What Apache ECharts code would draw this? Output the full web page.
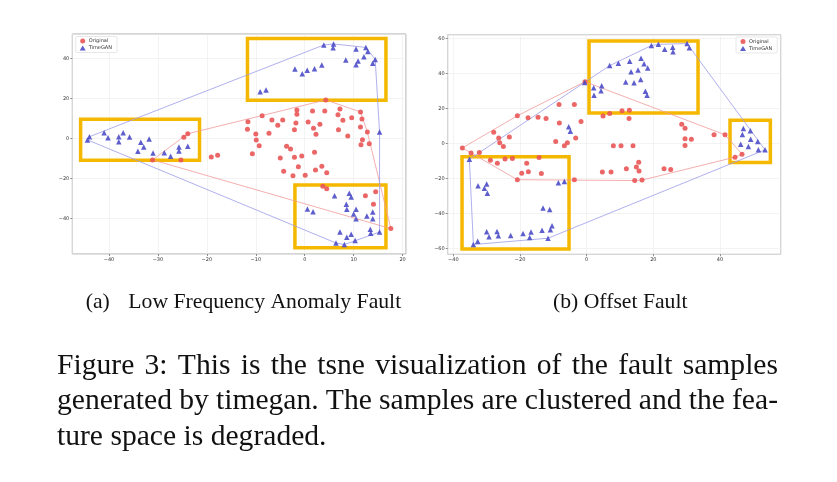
<!DOCTYPE html>
<html>
<head>
<meta charset="utf-8">
<script src="https://cdn.jsdelivr.net/npm/echarts@6/dist/echarts.min.js"></script>
<style>
html, body { margin: 0; padding: 0; background: #fff; }
#main { width: 837px; height: 482px; }
</style>
</head>
<body>
<div id="main"></div>
<script>
// (a) Low Frequency Anomaly Fault - t-SNE points
const lowOriginal = [
  [-31.1, -10.8], [-25.3, -10.8], [-24.7, 0.5], [-23.9, 2.3], [-19.1, -9.3], [-17.8, -8.5],
  [4.3, 19.2], [-1.6, 14.2], [1.6, 13.7], [4.1, 13.7], [7.2, 14.7], [6.8, 11.8], [11.4, 13.2],
  [-1.6, 12], [-8.7, 11.3], [-11.6, 8.3], [-6.7, 9.2], [-4.5, 9.2], [-5.5, 6.5], [-1.8, 7.7],
  [0.7, 8.2], [3.1, 7], [7.8, 9], [9.6, 10.3], [11.7, 9.7], [11.4, 5.7], [-11.7, 4.5], [-7.3, 2.5],
  [-10, 2.2], [-2.1, 4.3], [1.8, 5], [2.3, 2], [6.9, 4.3], [8.8, 1.2], [12.8, 3.2], [-9.9, -0.8],
  [-9.3, -3.7], [11.8, -0.7], [11.5, -3.2], [13.2, -2.7], [-3.7, -4], [-2.9, -5.3], [-10.7, -7.7],
  [-0.6, -8.8], [-2.1, -9.5], [2, -7], [-5, -9.8], [-1.3, -14.2], [-4.3, -16.5], [-2.4, -18.8],
  [0.1, -18.5], [2.2, -15.8], [3.5, -14], [4.5, -17.2], [4.5, -25.3], [3.7, -24], [12.4, -28.7],
  [14.5, -26.7], [14.05, -33], [17.6, -45.2]
];
const lowTimeGAN = [
  [-44, 0.8], [-44.4, -0.8], [-41, 2.8], [-40.2, 0.3], [-38, 0.8], [-38, -1.7], [-37.1, 2.8],
  [-35.8, 0.7], [-33.5, -2], [-32.9, -4.3], [-31.8, -0.3], [-34.1, -6.5], [-31, -7.3], [-28.7, -7.2],
  [-27.4, -9], [-25.7, -4.3], [-25.7, -6.3], [-23.9, -4],
  [3.9, 46.7], [5.9, 47.2], [5.8, 45.3], [12.5, 45.5], [12.9, 43.5], [10.5, 44.7], [14.4, 39.5],
  [12.1, 40.8], [8.4, 39.2], [10.9, 38.7], [10.5, 36.8], [13.9, 37.5], [-2, 34.7], [-0.5, 32.3],
  [0.5, 34], [2, 34.8], [3.5, 36.7], [-9.1, 23.3], [-7.9, 24.2], [15.3, 3.2],
  [6.1, -28.7], [9.1, -27.5], [9.5, -29.4], [8.5, -33], [8.6, -35.5], [10.5, -35.5], [10, -37.9],
  [10.5, -40.3], [12.7, -38.9], [13.9, -36.9], [13.9, -40.3], [0.55, -35.4], [1.7, -36.7],
  [7.2, -46.9], [9.5, -48], [8.6, -49.5], [10.3, -51.2], [6.4, -52.4], [8.1, -53.2], [13.4, -45.5],
  [13.5, -47.5], [15.3, -46.9]
];
// (b) Offset Fault - t-SNE points
const offOriginal = [
  [-37.3, -2.5], [-34.7, -5.4], [-32.2, -5.2], [-27.9, 6.5], [-26.4, 3.1], [-26.1, 0.4], [-25, -1.7],
  [-23.2, 3.8], [-20.8, 15.9], [-17.6, 14.7], [-14.6, 15.1], [-12.2, 14.4], [-8.3, 22.4], [-3.7, 22.4],
  [-8.2, 11.7], [-1.7, 12.6], [-9.3, 1.1], [-6.7, -1.3], [-5.8, 0.4], [-3.3, 3.1], [-0.5, 35.4],
  [-28.9, -9.6], [-26.8, -11.3], [-24.5, -8.8], [-22.3, -8.6], [-18, -11.3], [-19.5, -17], [-17.5, -16.1],
  [-14.3, -8], [-13.6, -17.2], [-20.8, -20.7], [-3.7, -20.7], [4.9, 15.7], [6.9, 17.2], [10.6, 18.8],
  [12.8, 19.1], [12.7, 14.4], [28.5, 11.1], [29.5, 8.8], [29.5, 2.7], [31.4, 2.5], [29.5, -1.1],
  [38.2, 5], [41.5, 5], [8, -1.3], [10.3, -1.3], [13.9, -1.3], [15.6, -10.7], [14.9, -13.4],
  [15.7, -15.7], [11.9, -14.5], [4.7, -16.3], [7.3, -16.3], [14.4, -21.2], [16.6, -20.9], [23.2, -14.5],
  [25.2, -14.9], [44.5, -7.8], [46.6, -6.1]
];
const offTimeGAN = [
  [-35.2, -9], [-32.6, -24.1], [-30.7, -25.6], [-30, -23.2], [-29.8, -28.5], [-34, -57.8], [-32.7, -55.9],
  [-30, -50.5], [-29.3, -53.4], [-26.9, -50.3], [-26.5, -52.8], [-22.8, -52.6], [-19.1, -51.5],
  [-16.7, -50.7], [-17.1, -53.8], [-13.4, -49.6], [-10.9, -49.4], [-10.4, -47.1], [-11.6, -54.2],
  [-13.1, -36.9], [-11.1, -37.7], [-8.5, -22.4], [-6.7, -21.8], [-5.4, 9.6], [-4.9, 7.1], [-0.6, 35],
  [2.1, 32], [2.2, 27.6], [4.3, 30.2], [4.5, 33.1], [6.9, 44.6], [9.5, 45.9], [12.9, 47.1], [16.3, 48.8],
  [17.2, 45.7], [18.3, 43.3], [13.3, 41.1], [15.4, 42.1], [11.7, 35.2], [14.2, 34.8], [16.2, 36.7],
  [17.6, 29.9], [18.1, 27.6], [19.4, 56.1], [21.5, 56.8], [23.4, 54], [25.8, 55.1], [25.9, 52.6],
  [30.1, 57.2], [30.8, 54.9], [47, 8.6], [49.1, 7.3], [46.7, 5.2], [49.2, 2.5], [46.2, -0.4],
  [48.5, -1.7], [51.3, 1.1], [51.5, -3.6], [53.5, -3.6]
];
// highlighted regions [x1, y1, x2, y2]
const lowBoxes = [[-45.8, 9.5, -21.5, -11], [-11.7, 50, 16.6, 19], [-2.0, -23.4, 16.6, -54.8]];
const offBoxes = [[0.7, 58.7, 33.4, 17.5], [43.0, 13.3, 55.1, -10.8], [-37.4, -7.6, -5.3, -60.4]];
const seriesNames = ['Original', 'TimeGAN'];
const subCaptions = ['(a)', 'Low Frequency Anomaly Fault', '(b) Offset Fault'];
const captionLines = [
  'Figure 3: This is the tsne visualization of the fault samples',
  'generated by timegan. The samples are clustered and the fea-',
  'ture space is degraded.'
];

const RED = '#e95757';
const BLUE = '#4c4cc8';

// convex hull (monotone chain), closed
function hull(pts) {
  const p = pts.slice().sort((a, b) => a[0] - b[0] || a[1] - b[1]);
  const cross = (o, a, b) => (a[0] - o[0]) * (b[1] - o[1]) - (a[1] - o[1]) * (b[0] - o[0]);
  const lower = [], upper = [];
  for (const q of p) {
    while (lower.length >= 2 && cross(lower[lower.length - 2], lower[lower.length - 1], q) <= 0) lower.pop();
    lower.push(q);
  }
  for (let i = p.length - 1; i >= 0; i--) {
    const q = p[i];
    while (upper.length >= 2 && cross(upper[upper.length - 2], upper[upper.length - 1], q) <= 0) upper.pop();
    upper.push(q);
  }
  upper.pop(); lower.pop();
  const h = lower.concat(upper);
  h.push(h[0]);
  return h;
}

function axisCommon(extra) {
  return Object.assign({
    type: 'value',
    axisLine: { show: false, onZero: false },
    axisTick: { show: true, length: 2, lineStyle: { color: '#444', width: 0.6 } },
    axisLabel: {
      fontSize: 5, color: '#333', margin: 3, fontFamily: 'DejaVu Sans',
      showMinLabel: false, showMaxLabel: false,
      formatter: v => String(v).replace('-', '\u2212')   // matplotlib style minus
    },
    splitLine: { show: true, lineStyle: { color: '#ebebeb', width: 0.6 } }
  }, extra);
}

function plotSeries(idx, orig, gan, boxes) {
  return [
    { type: 'line', name: 'hullO', xAxisIndex: idx, yAxisIndex: idx, data: hull(orig), showSymbol: false, symbol: 'none',
      lineStyle: { color: '#f19a9a', width: 0.8 }, silent: true, z: 1 },
    { type: 'line', name: 'hullG', xAxisIndex: idx, yAxisIndex: idx, data: hull(gan), showSymbol: false, symbol: 'none',
      lineStyle: { color: '#9c9ce8', width: 0.8 }, silent: true, z: 1 },
    { type: 'scatter', name: seriesNames[0], xAxisIndex: idx, yAxisIndex: idx, data: orig, symbol: 'circle', symbolSize: 5,
      itemStyle: { color: RED, opacity: 0.9 }, z: 2 },
    { type: 'scatter', name: seriesNames[1], xAxisIndex: idx, yAxisIndex: idx, data: gan, symbol: 'triangle', symbolSize: 5.5,
      itemStyle: { color: BLUE, opacity: 0.9 }, z: 2 },
    { type: 'line', name: 'boxes', xAxisIndex: idx, yAxisIndex: idx, data: [], z: 5, silent: true,
      markArea: {
        silent: true,
        itemStyle: { color: 'rgba(0,0,0,0)', borderColor: '#f5b800', borderWidth: 3.5 },
        data: boxes.map(b => [{ coord: [b[0], b[1]] }, { coord: [b[2], b[3]] }])
      } }
  ];
}

// justified caption lines, word by word
const capFont = '29.6px "Liberation Serif"';
const ctx = document.createElement('canvas').getContext('2d');
ctx.font = capFont;
function captionText(line, x0, x1, y, justify) {
  const words = line.split(' ');
  const widths = words.map(w => ctx.measureText(w).width);
  const total = widths.reduce((a, b) => a + b, 0);
  const gap = justify ? (x1 - x0 - total) / (words.length - 1) : ctx.measureText(' ').width;
  let x = x0;
  return words.map((w, i) => {
    const el = { type: 'text', x: x, y: y, style: { text: w, font: capFont, fill: '#111', verticalAlign: 'middle' } };
    x += widths[i] + gap;
    return el;
  });
}

const subFont = '21.7px "Liberation Serif"';
let graphics = [
  { type: 'text', x: 85.7, y: 302, style: { text: subCaptions[0], font: subFont, fill: '#111', verticalAlign: 'middle' } },
  { type: 'text', x: 128.3, y: 302, style: { text: subCaptions[1], font: subFont, fill: '#111', verticalAlign: 'middle' } },
  { type: 'text', x: 553, y: 302, style: { text: subCaptions[2], font: subFont, fill: '#111', verticalAlign: 'middle' } }
];
graphics = graphics.concat(captionText(captionLines[0], 57, 778, 366, true));
graphics = graphics.concat(captionText(captionLines[1], 57, 778, 401.5, true));
graphics = graphics.concat(captionText(captionLines[2], 57, 778, 437, false));

const legendCommon = {
  data: seriesNames, orient: 'vertical', itemWidth: 6, itemHeight: 5, itemGap: 2,
  padding: [2, 5, 2, 4], borderColor: '#d6d6d6', borderWidth: 0.6, borderRadius: 1.5, backgroundColor: '#fff',
  textStyle: { fontSize: 5, color: '#333', fontFamily: 'DejaVu Sans', padding: [0, 0, 0, -2] }
};

const chart = echarts.init(document.getElementById('main'));
chart.setOption({
  animation: false,
  backgroundColor: '#fff',
  grid: [
    { left: 72.3, top: 34, width: 333.7, height: 220, show: true, borderColor: '#a8a8a8', borderWidth: 1, backgroundColor: '#fff' },
    { left: 447.7, top: 34.7, width: 333, height: 219.6, show: true, borderColor: '#a8a8a8', borderWidth: 1, backgroundColor: '#fff' }
  ],
  xAxis: [
    axisCommon({ gridIndex: 0, min: -47.5, max: 20.7, splitNumber: 7 }),
    axisCommon({ gridIndex: 1, min: -41.7, max: 58.2, splitNumber: 5 })
  ],
  yAxis: [
    axisCommon({ gridIndex: 0, min: -57.9, max: 52.2, splitNumber: 5 }),
    axisCommon({ gridIndex: 1, min: -63.4, max: 62.3, splitNumber: 6 })
  ],
  legend: [
    Object.assign({ left: 75.7, top: 36.5 }, legendCommon),
    Object.assign({ left: 736, top: 37 }, legendCommon)
  ],
  series: plotSeries(0, lowOriginal, lowTimeGAN, lowBoxes).concat(plotSeries(1, offOriginal, offTimeGAN, offBoxes)),
  graphic: graphics
});
</script>
</body>
</html>
